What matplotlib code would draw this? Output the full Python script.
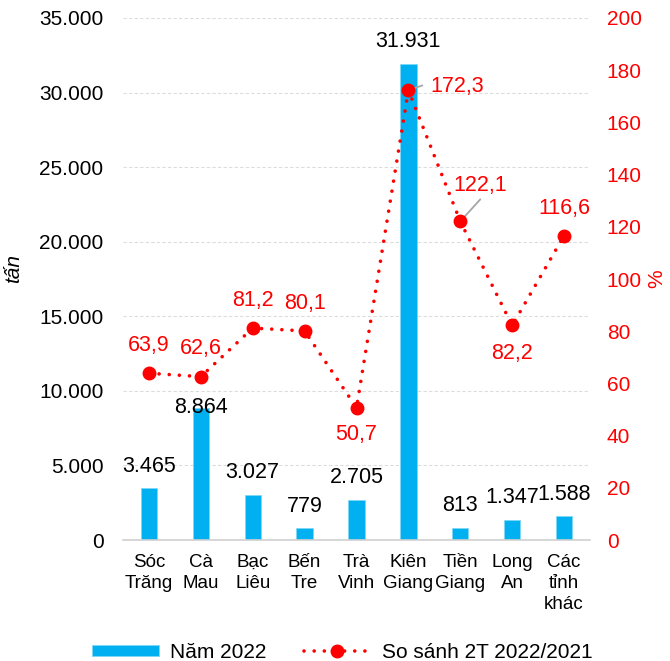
import matplotlib
matplotlib.use("Agg")
import matplotlib.pyplot as plt
from matplotlib.ticker import FuncFormatter

plt.rcParams['font.family'] = ['Liberation Sans', 'DejaVu Sans']

categories = ["Sóc\nTrăng", "Cà\nMau", "Bạc\nLiêu", "Bến\nTre", "Trà\nVinh",
              "Kiên\nGiang", "Tiền\nGiang", "Long\nAn", "Các\ntỉnh\nkhác"]
volume_2022 = [3465, 8864, 3027, 779, 2705, 31931, 813, 1347, 1588]
ratio_pct = [63.9, 62.6, 81.2, 80.1, 50.7, 172.3, 122.1, 82.2, 116.6]
ratio_labels = ["63,9", "62,6", "81,2", "80,1", "50,7", "172,3", "122,1", "82,2", "116,6"]
left_ticks = [0, 5000, 10000, 15000, 20000, 25000, 30000, 35000]
right_ticks = [0, 20, 40, 60, 80, 100, 120, 140, 160, 180, 200]

BLUE = "#00B0F0"
RED = "#FF0000"
FS = 15
FS_X = 13.5
FS_LAB = 15.5

fig = plt.figure(figsize=(6.70, 6.61), dpi=100)
ax = fig.add_axes([0.1836, 0.183, 0.697, 0.7898])
ax2 = ax.twinx()

x = list(range(len(categories)))
ax.bar(x, volume_2022, width=0.315, color=BLUE, edgecolor="#7fd7f7",
       linewidth=0.6, label="Năm 2022", zorder=2)
ax.set_xlim(-0.5, len(categories) - 0.5)
ax.set_ylim(0, 35000)
ax.set_yticks(left_ticks)
ax.yaxis.set_major_formatter(FuncFormatter(lambda v, p: f"{int(v):,}".replace(",", ".")))
ax.set_xticks(x)
ax.set_xticklabels(categories, fontsize=FS_X, linespacing=1.3)
ax.tick_params(axis='x', length=0, pad=10)
ax.tick_params(axis='y', length=0, pad=14, labelsize=FS)
ax.grid(axis='y', color="#dcdcdc", linewidth=0.8, linestyle=(0, (3, 2)), zorder=0)
ax.set_axisbelow(True)
for s in ["top", "left", "right"]:
    ax.spines[s].set_visible(False)
ax.spines["bottom"].set_color("#d0d0d0")
ax.spines["bottom"].set_linewidth(1.2)
ax.set_ylabel("tấn", fontsize=FS, style="italic")
ax.yaxis.set_label_coords(-0.214, 0.52)

# bar value labels
bar_offsets = [16, 0, 16, 16, 16, 16, 16, 16, 16]
for xi, v, off in zip(x, volume_2022, bar_offsets):
    ax.annotate(f"{v:,}".replace(",", "."), (xi, v), xytext=(0, off),
                textcoords="offset points", ha="center", va="center",
                fontsize=FS_LAB, color="black")

# line
ax2.plot(x, ratio_pct, color=RED, linewidth=2.6, linestyle=(0, (0.01, 2.8)),
         dash_capstyle="round", marker="o", markersize=9,
         label="So sánh 2T 2022/2021", zorder=5)
ax2.set_ylim(0, 200)
ax2.set_yticks(right_ticks)
ax2.tick_params(axis='y', length=0, pad=12, labelsize=FS, labelcolor=RED)
for s in ["top", "left", "right", "bottom"]:
    ax2.spines[s].set_visible(False)
ax2.set_ylabel("%", fontsize=FS, color=RED)
ax2.yaxis.set_label_coords(1.122, 0.5)

# line value labels (offsets in points)
offs = [(0, 20), (0, 20), (0, 19.5), (0, 19.5), (0, -19), None, None, (0, -20), (0, 19.5)]
for i, (xi, v, lab) in enumerate(zip(x, ratio_pct, ratio_labels)):
    if i == 5:
        ax2.annotate("", xy=(xi, v), xytext=(10, 3.5), textcoords="offset points",
                     arrowprops=dict(arrowstyle="-", color="#a6a6a6", lw=1.3,
                                     shrinkA=0, shrinkB=0), zorder=4)
        ax2.annotate(lab, (xi, v), xytext=(16, 2.5), textcoords="offset points",
                     ha="left", va="center", fontsize=FS_LAB, color=RED)
    elif i == 6:
        ax2.annotate("", xy=(xi, v), xytext=(14.4, 15.8), textcoords="offset points",
                     arrowprops=dict(arrowstyle="-", color="#a6a6a6", lw=1.3,
                                     shrinkA=0, shrinkB=0), zorder=4)
        ax2.annotate(lab, (xi, v), xytext=(14.4, 26), textcoords="offset points",
                     ha="center", va="center", fontsize=FS_LAB, color=RED)
    else:
        dx, dy = offs[i]
        ax2.annotate(lab, (xi, v), xytext=(dx, dy), textcoords="offset points",
                     ha="center", va="center", fontsize=FS_LAB, color=RED)

h1, l1 = ax.get_legend_handles_labels()
h2, l2 = ax2.get_legend_handles_labels()
fig.legend(h1 + h2, l1 + l2, loc="center", bbox_to_anchor=(0.511, 0.013), ncol=2,
           frameon=False, fontsize=FS, handlelength=3.2, handleheight=0.5,
           columnspacing=1.8, handletextpad=0.55, numpoints=1)

fig.savefig("out.png", dpi=100)
